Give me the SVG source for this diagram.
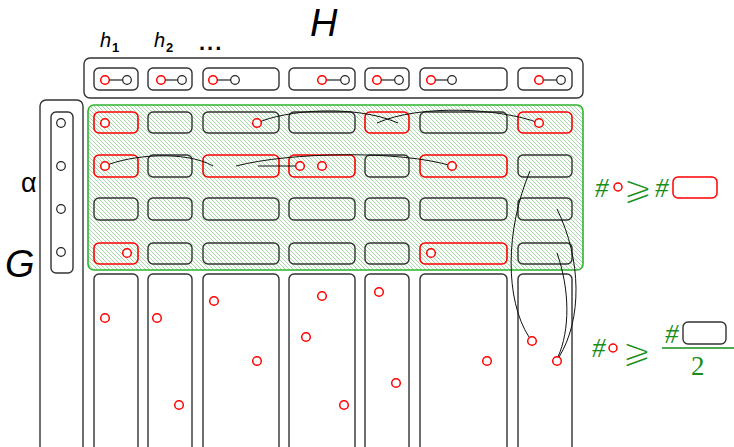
<svg xmlns="http://www.w3.org/2000/svg" width="734" height="447" viewBox="0 0 734 447">
<defs>
<pattern id="hatch" patternUnits="userSpaceOnUse" width="4" height="4">
<path d="M-1,-1 L5,5 M-1,3 L1,5 M3,-1 L5,1" stroke="#9ad79a" stroke-width="0.9"/>
</pattern>
</defs>
<style>
.box{fill:none;stroke:#333;stroke-width:1.4}
.cell{fill:none;stroke:#333;stroke-width:1.4}
.red{fill:none;stroke:#ff0000;stroke-width:1.6}
.rc{fill:#fff;stroke:#ff0000;stroke-width:1.5}
.rc2{fill:none;stroke:#ff0000;stroke-width:1.5}
.bc{fill:#fff;stroke:#222;stroke-width:1.2}
.lnk{fill:none;stroke:#111;stroke-width:1}
.lab{font-family:"Liberation Sans",Arial,sans-serif;fill:#000}
.math{font-family:"Liberation Serif","Times New Roman",serif;font-style:italic;fill:#1a8c1a}
.geq{font-family:"DejaVu Sans",sans-serif;fill:#1a8c1a;stroke:#fff;stroke-width:1.2}
</style>
<rect width="734" height="447" fill="#fff"/>
<g id="labels">
<text class="lab" x="100" y="47" font-size="20" font-style="italic">h</text>
<text class="lab" x="112" y="52" font-size="13" font-weight="bold">1</text>
<text class="lab" x="154" y="47" font-size="20" font-style="italic">h</text>
<text class="lab" x="166" y="52" font-size="13" font-weight="bold">2</text>
<text class="lab" x="199" y="50" font-size="22" font-weight="bold" letter-spacing="2">...</text>
<text class="lab" x="310" y="36" font-size="38" font-style="italic">H</text>
<text class="lab" x="21" y="192" font-size="27">α</text>
<text class="lab" x="5" y="277" font-size="38" font-style="italic">G</text>
</g>
<g id="H">
<rect class="box" x="84" y="58" width="499" height="40" rx="6"/>
<rect class="cell" x="94" y="68" width="44" height="22" rx="5"/>
<rect class="cell" x="148" y="68" width="44" height="22" rx="5"/>
<rect class="cell" x="203" y="68" width="76" height="22" rx="5"/>
<rect class="cell" x="289" y="68" width="66" height="22" rx="5"/>
<rect class="cell" x="365" y="68" width="44" height="22" rx="5"/>
<rect class="cell" x="420" y="68" width="87" height="22" rx="5"/>
<rect class="cell" x="518" y="68" width="54" height="22" rx="5"/>
<g stroke="#222" stroke-width="1.2">
<line x1="105" y1="80" x2="127" y2="80"/>
<line x1="161" y1="80" x2="182" y2="80"/>
<line x1="213" y1="80" x2="235" y2="80"/>
<line x1="322" y1="80" x2="345" y2="80"/>
<line x1="377" y1="80" x2="399" y2="80"/>
<line x1="431" y1="80" x2="452" y2="80"/>
<line x1="539" y1="80" x2="561" y2="80"/>
</g>
<circle class="rc" cx="105" cy="80" r="4.3"/><circle class="bc" cx="127" cy="80" r="4.3"/>
<circle class="rc" cx="161" cy="80" r="4.3"/><circle class="bc" cx="182" cy="80" r="4.3"/>
<circle class="rc" cx="213" cy="80" r="4.3"/><circle class="bc" cx="235" cy="80" r="4.3"/>
<circle class="rc" cx="322" cy="80" r="4.3"/><circle class="bc" cx="345" cy="80" r="4.3"/>
<circle class="rc" cx="377" cy="80" r="4.3"/><circle class="bc" cx="399" cy="80" r="4.3"/>
<circle class="rc" cx="431" cy="80" r="4.3"/><circle class="bc" cx="452" cy="80" r="4.3"/>
<circle class="rc" cx="539" cy="80" r="4.3"/><circle class="bc" cx="561" cy="80" r="4.3"/>
</g>
<g id="G">
<rect class="box" x="40" y="100" width="43" height="360" rx="6"/>
<rect class="cell" x="51" y="112" width="22" height="161" rx="5"/>
<circle class="bc" cx="61" cy="123" r="4.3"/>
<circle class="bc" cx="61" cy="166" r="4.3"/>
<circle class="bc" cx="61" cy="209" r="4.3"/>
<circle class="bc" cx="61" cy="252" r="4.3"/>
</g>
<g id="alpha-region">
<rect x="88" y="105" width="495" height="165" rx="6" fill="url(#hatch)" stroke="#2db52d" stroke-width="1.6"/>
</g>
<g id="rows">
<g class="cell">
<rect x="148" y="112" width="44" height="21" rx="5"/>
<rect x="203" y="112" width="76" height="21" rx="5"/>
<rect x="289" y="112" width="66" height="21" rx="5"/>
<rect x="420" y="112" width="87" height="21" rx="5"/>
<rect x="148" y="155" width="44" height="22" rx="5"/>
<rect x="365" y="155" width="44" height="22" rx="5"/>
<rect x="518" y="155" width="54" height="22" rx="5"/>
<rect x="94" y="198" width="44" height="22" rx="5"/>
<rect x="148" y="198" width="44" height="22" rx="5"/>
<rect x="203" y="198" width="76" height="22" rx="5"/>
<rect x="289" y="198" width="66" height="22" rx="5"/>
<rect x="365" y="198" width="44" height="22" rx="5"/>
<rect x="420" y="198" width="87" height="22" rx="5"/>
<rect x="518" y="198" width="54" height="22" rx="5"/>
<rect x="148" y="243" width="44" height="21" rx="5"/>
<rect x="203" y="243" width="76" height="21" rx="5"/>
<rect x="289" y="243" width="66" height="21" rx="5"/>
<rect x="365" y="243" width="44" height="21" rx="5"/>
<rect x="518" y="243" width="54" height="21" rx="5"/>
</g>
<g class="red">
<rect x="94" y="112" width="44" height="21" rx="5"/>
<rect x="365" y="112" width="44" height="21" rx="5"/>
<rect x="518" y="112" width="54" height="21" rx="5"/>
<rect x="94" y="155" width="44" height="22" rx="5"/>
<rect x="203" y="155" width="76" height="22" rx="5"/>
<rect x="289" y="155" width="66" height="22" rx="5"/>
<rect x="420" y="155" width="87" height="22" rx="5"/>
<rect x="94" y="243" width="44" height="21" rx="5"/>
<rect x="420" y="243" width="87" height="21" rx="5"/>
</g>
</g>
<g id="columns" class="cell">
<rect x="94" y="274" width="44" height="190" rx="5"/>
<rect x="148" y="274" width="44" height="190" rx="5"/>
<rect x="203" y="274" width="76" height="190" rx="5"/>
<rect x="289" y="274" width="66" height="190" rx="5"/>
<rect x="365" y="274" width="44" height="190" rx="5"/>
<rect x="420" y="274" width="87" height="190" rx="5"/>
<rect x="518" y="274" width="54" height="190" rx="5"/>
</g>
<g id="connectors" class="lnk">
<path d="M257,123 C285,110 355,104 398,123"/>
<path d="M539,123 C500,108 420,104 377,123"/>
<path d="M105,166 C130,155 185,150 213,166"/>
<path d="M236,166 C290,152 400,150 452,166"/>
<path d="M258,166 L296,166"/>
<path d="M530,171 C505,230 505,300 529,337"/>
<path d="M557,209 C582,260 582,320 559,357"/>
<path d="M557,253 C570,290 570,330 558,357"/>
</g>
<g id="points">
<circle class="rc" cx="105" cy="123" r="4.3"/>
<circle class="rc" cx="257" cy="123" r="4.3"/>
<circle class="rc" cx="539" cy="123" r="4.3"/>
<circle class="rc" cx="105" cy="166" r="4.3"/>
<circle class="rc" cx="300" cy="166" r="4.3"/>
<circle class="rc" cx="322" cy="166" r="4.3"/>
<circle class="rc" cx="452" cy="166" r="4.3"/>
<circle class="rc" cx="127" cy="253" r="4.3"/>
<circle class="rc" cx="431" cy="253" r="4.3"/>
<circle class="rc" cx="105" cy="318" r="4.3"/>
<circle class="rc" cx="157" cy="318" r="4.3"/>
<circle class="rc" cx="179" cy="405" r="4.3"/>
<circle class="rc" cx="214" cy="301" r="4.3"/>
<circle class="rc" cx="257" cy="361" r="4.3"/>
<circle class="rc" cx="322" cy="296" r="4.3"/>
<circle class="rc" cx="306" cy="337" r="4.3"/>
<circle class="rc" cx="344" cy="405" r="4.3"/>
<circle class="rc" cx="379" cy="292" r="4.3"/>
<circle class="rc" cx="396" cy="383" r="4.3"/>
<circle class="rc" cx="487" cy="361" r="4.3"/>
<circle class="rc" cx="532" cy="341" r="4.3"/>
<circle class="rc" cx="557" cy="361" r="4.3"/>
</g>
<g id="formula1">
<text class="math" x="595" y="197" font-size="27">#</text>
<circle class="rc2" cx="618" cy="187" r="4"/>
<text class="geq" x="623" y="200" font-size="35">⩾</text>
<text class="math" x="655" y="197" font-size="27">#</text>
<rect x="673" y="177" width="44" height="21" rx="5" fill="none" stroke="#ff0000" stroke-width="1.5"/>
</g>
<g id="formula2">
<text class="math" x="592" y="357" font-size="27">#</text>
<circle class="rc2" cx="613" cy="348" r="4"/>
<text class="geq" x="622" y="363" font-size="35">⩾</text>
<line x1="662" y1="348" x2="734" y2="348" stroke="#1a8c1a" stroke-width="1.5"/>
<text class="math" x="665" y="343" font-size="27">#</text>
<rect x="683" y="322" width="43" height="22" rx="5" fill="none" stroke="#333" stroke-width="1.4"/>
<text x="691" y="375" font-size="27" fill="#1a8c1a" font-family="Liberation Serif,serif">2</text>
</g>
</svg>
